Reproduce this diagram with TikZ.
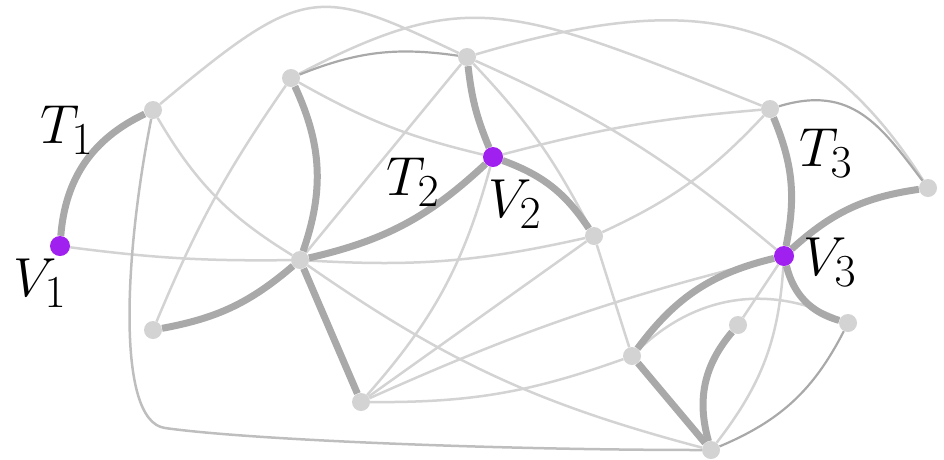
\documentclass[tikz,border=0pt]{standalone}
\pgfdeclarelayer{bg}
\pgfsetlayers{bg,main}
\definecolor{edgelight}{HTML}{D3D3D3}
\definecolor{edgedark}{HTML}{A9A9A9}
\definecolor{edgemid}{HTML}{BEBEBE}
\definecolor{vpurple}{HTML}{A020F0}
\definecolor{vgray}{HTML}{D3D3D3}
\begin{document}
\begin{tikzpicture}[x=1pt,y=-1pt,
  gnode/.style={circle,fill=vgray,inner sep=0pt,minimum size=18pt},
  pnode/.style={circle,fill=vpurple,inner sep=0pt,minimum size=20pt},
  lbl/.style={inner sep=0pt,font=\Huge,scale=2.21},
  lightedge/.style={draw=edgelight,line width=2.5pt},
  treeedge/.style={draw=edgedark,line width=7pt},
  thinedge/.style={draw=edgedark,line width=2.2pt},
  outeredge/.style={draw=edgemid,line width=2.5pt}]
\useasboundingbox (0,0) rectangle (944,459);
% vertices
\node[pnode] (V1) at (60,246) {};
\node[gnode] (A) at (153,110) {};
\node[gnode] (B) at (291,78) {};
\node[gnode] (C) at (467,57) {};
\node[pnode] (V2) at (493,157) {};
\node[gnode] (D) at (770,109) {};
\node[gnode] (E) at (928,188) {};
\node[gnode] (F) at (594,236) {};
\node[pnode] (V3) at (784,256) {};
\node[gnode] (G) at (300,260) {};
\node[gnode] (H) at (153,330) {};
\node[gnode] (I) at (738,325) {};
\node[gnode] (J) at (848,323) {};
\node[gnode] (K) at (632,356) {};
\node[gnode] (L) at (361,402) {};
\node[gnode] (M) at (711,450) {};
% labels
\node[lbl] (t1) at (67,130) {$T_1$};
\node[lbl] (t2) at (413,182) {$T_2$};
\node[lbl] (t3) at (826,153) {$T_3$};
\node[lbl] (v1) at (40,283) {$V_1$};
\node[lbl] (v2) at (515,204) {$V_2$};
\node[lbl] (v3) at (830,262) {$V_3$};
\begin{pgfonlayer}{bg}
% light edges
\path[lightedge] (V1) to[bend right=4] (G);
\path[lightedge] (A) .. controls (305,-17) and (317,-14) .. (C);
\path[lightedge] (A) to[bend right=14] (G);
\path[lightedge] (B) .. controls (469,-14) and (510,5) .. (D);
\path[lightedge] (C) .. controls (687,-8) and (811,5) .. (E);
\path[lightedge] (B) to[bend right=8] (V2);
\path[lightedge] (B) to[bend right=6] (H);
\path[lightedge] (C) -- (G);
\path[lightedge] (C) to[bend left=8] (F);
\path[lightedge] (C) to[bend left=8] (V3);
\path[lightedge] (V2) to[bend left=5] (D);
\path[lightedge] (V2) to[bend left=13] (L);
\path[lightedge] (D) to[bend left=11] (F);
\path[lightedge] (G) to[bend right=8] (F);
\path[lightedge] (F) -- (K);
\path[lightedge] (F) -- (L);
\path[lightedge] (G) to[bend right=10] (M);
\path[lightedge] (L) to[bend left=5] (V3);
\path[lightedge] (L) to[bend right=10] (K);
\path[lightedge] (K) to[bend left=35] (J);
\path[lightedge] (I) -- (V3);
\path[lightedge] (V3) to[bend left=17] (M);
% outer edge
\path[outeredge] (A) .. controls (125,250) and (115,421) .. (165,428)
   .. controls (250,440) and (500,450) .. (M);
% thin dark edges
\path[thinedge] (B) to[bend left=15] (C);
\path[thinedge] (D) .. controls (852,84) and (881,126) .. (E);
\path[thinedge] (J) to[bend left=20] (M);
% tree edges
\path[treeedge] (V1) to[bend left=30] (A);
\path[treeedge] (B) to[bend left=22] (G);
\path[treeedge] (G) to[bend left=15] (H);
\path[treeedge] (G) to[bend right=15] (V2);
\path[treeedge] (G) -- (L);
\path[treeedge] (C) to[bend right=8] (V2);
\path[treeedge] (V2) to[bend left=18] (F);
\path[treeedge] (D) to[bend left=17] (V3);
\path[treeedge] (V3) to[bend left=17] (E);
\path[treeedge] (V3) to[bend right=20] (K);
\path[treeedge] (V3) to[bend right=30] (J);
\path[treeedge] (K) -- (M);
\path[treeedge] (I) to[bend right=28] (M);
\end{pgfonlayer}
\end{tikzpicture}
\end{document}
